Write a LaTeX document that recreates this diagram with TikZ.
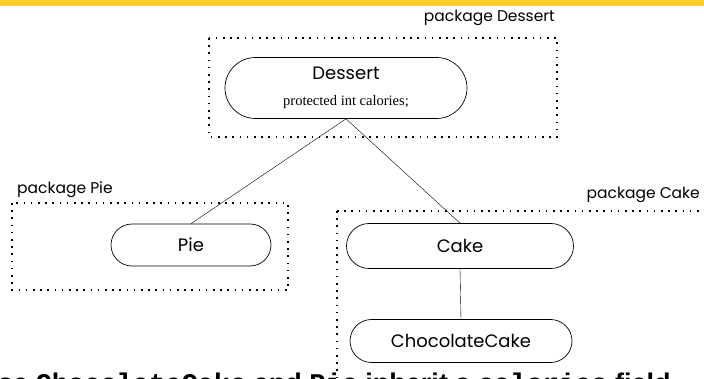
\documentclass[tikz,border=0pt]{standalone}
\usepackage{fontspec}
\setmainfont{Poppins}
\newfontfamily\fieldfont{Liberation Serif}
\newfontfamily\notesans{Liberation Sans}
\newfontfamily\notemono{Liberation Mono}
\usepackage{tikz}
\usetikzlibrary{shapes.misc, positioning}
\definecolor{slidebar}{RGB}{255,204,41}

\begin{document}
\begin{tikzpicture}[x=1pt, y=-1pt,
    cls/.style={rounded rectangle, draw, line width=0.7pt, inner sep=0pt, font=\fontsize{18}{20}\selectfont},
    pkg/.style={draw, line width=1.6pt, dash pattern=on 1.6pt off 5.6pt},
    pkglabel/.style={font=\fontsize{15.5}{18}\selectfont, inner sep=0pt}]
    \useasboundingbox (0,0) rectangle (704,379);
    \clip (0,0) rectangle (704,379);
    \fill[slidebar] (0,0) rectangle (704,6);

    % packages
    \draw[pkg] (209,38) rectangle (557,137);
    \draw[pkg] (12,203) rectangle (288,290);
    \draw[pkg] (337,211) rectangle (730,420);
    \node[pkglabel, anchor=east] (lblDessert) at (555,18) {package Dessert};
    \node[pkglabel, anchor=west] (lblPie) at (17,190) {package Pie};
    \node[pkglabel, anchor=east] (lblCake) at (700,195) {package Cake};

    % classes
    \node[cls, minimum width=242pt, minimum height=61pt, align=center] (dessert) at (346,88)
        {Dessert\\[6pt]{\fieldfont\fontsize{14.5}{16}\selectfont protected int calories;}};
    \node[cls, minimum width=160pt, minimum height=42pt] (pie) at (191,245) {Pie};
    \node[cls, minimum width=227pt, minimum height=45pt] (cake) at (460,246) {Cake};
    \node[cls, minimum width=222pt, minimum height=43pt] (choc) at (461,341) {ChocolateCake};

    \draw (dessert.south) -- (pie.north);
    \draw (dessert.south) -- (cake.north);
    \draw (cake.south) -- (choc.north);

    \node[anchor=base west, inner sep=0pt, font=\notesans\bfseries\fontsize{27}{31}\selectfont] (note) at (-2,392)
        {se {\notemono\bfseries ChocolateCake} and {\notemono\bfseries Pie} inherit a {\notemono\bfseries calories} field};
\end{tikzpicture}
\end{document}
